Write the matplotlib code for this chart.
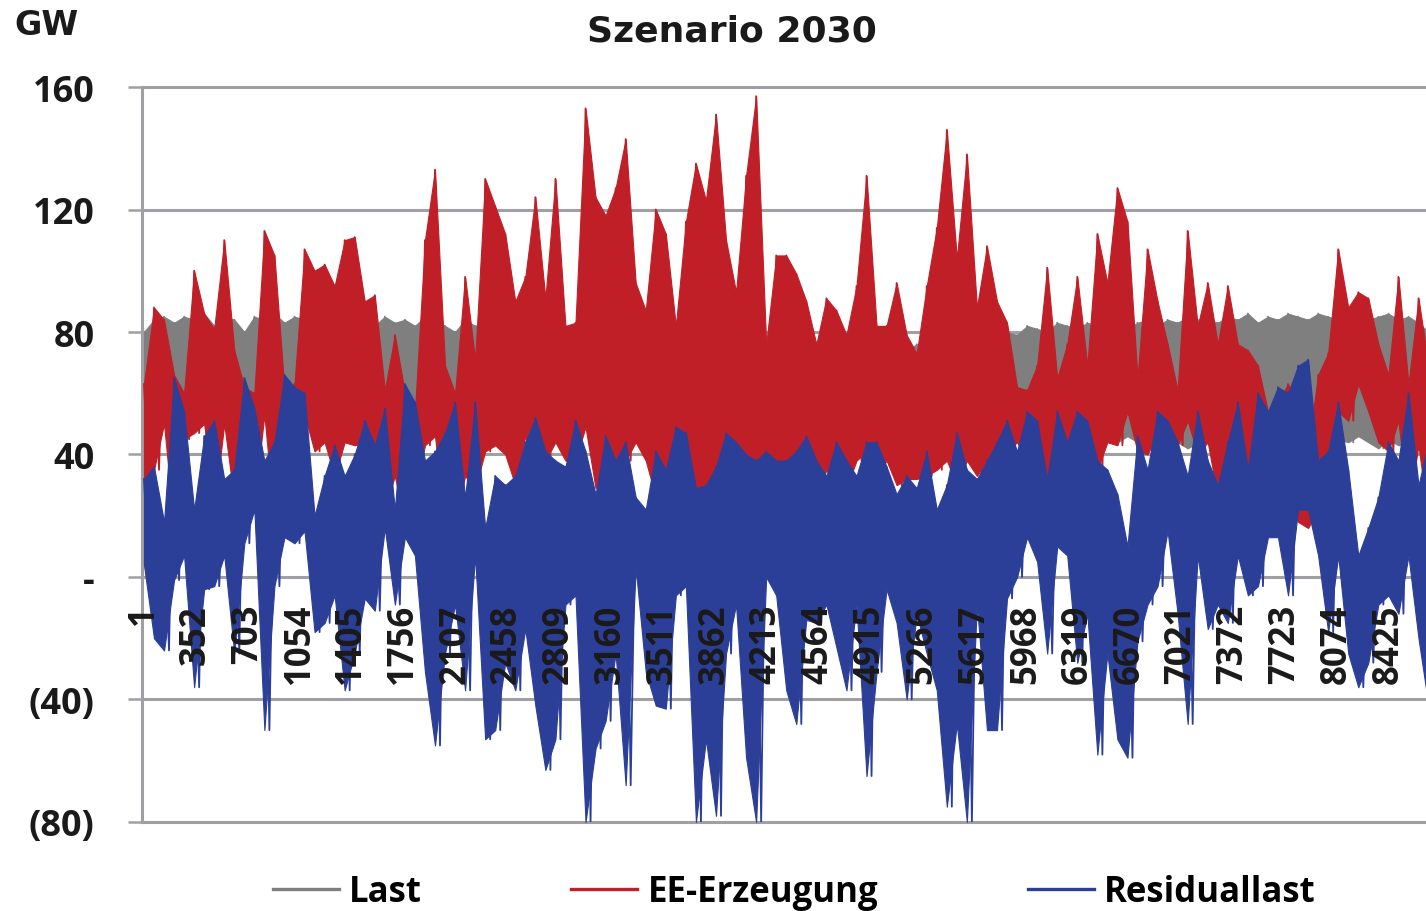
import numpy as np
import matplotlib.pyplot as plt
from matplotlib.lines import Line2D

# envelope values (GW), 130 samples across the 8760 hours
last_hi = [80, 84, 85, 83, 85, 84, 86, 82, 85, 84, 80, 85, 84, 86, 83, 85, 84, 81, 85, 84, 86, 83,
           84, 82, 85, 83, 84, 82, 85, 84, 82, 80, 84, 82, 83, 81, 82, 80, 83, 84, 82, 80, 81,
           80, 78, 79, 77, 78, 76, 78, 77, 76, 75, 77, 76, 75, 76, 74, 75, 76, 74, 75, 74, 76,
           75, 74, 76, 75, 77, 75, 74, 76, 75, 74, 73, 75, 74, 76, 75, 74, 73, 75, 74, 76, 77,
           78, 80, 79, 82, 81, 80, 83, 82, 81, 83, 82, 80, 82, 81, 83, 84, 82, 84, 83, 85, 84,
           84, 83, 85, 84, 86, 83, 85, 84, 86, 85, 84, 86, 85, 84, 86, 85, 84, 85, 86, 84, 85, 83, 80, 74]
last_lo = [45, 58, 56, 60, 55, 58, 54, 60, 56, 55, 60, 57, 55, 58, 56, 60, 55, 58, 56, 54, 57, 58,
           56, 55, 58, 54, 57, 55, 53, 55, 56, 54, 53, 55, 52, 54, 53, 52, 54, 53, 52, 50, 52,
           52, 50, 51, 49, 50, 48, 49, 50, 48, 47, 49, 48, 47, 48, 46, 47, 48, 46, 47, 46, 48,
           47, 46, 48, 47, 48, 46, 47, 48, 46, 47, 45, 47, 46, 48, 47, 46, 45, 47, 46, 47, 48,
           48, 47, 49, 46, 48, 47, 45, 47, 46, 44, 46, 45, 44, 46, 44, 45, 43, 45, 44, 42, 44,
           44, 43, 45, 42, 44, 43, 42, 44, 43, 45, 42, 44, 43, 45, 44, 46, 44, 42, 45, 43, 44, 42, 44, 48]

ee_hi = [63, 88, 84, 66, 60, 100, 86, 81, 110, 74, 62, 60, 113, 105, 61, 63, 107, 100, 102, 95, 110, 111,
         90, 92, 61, 79, 60, 54, 110, 133, 69, 60, 98, 71, 130, 121, 112, 90, 98, 124, 91, 130, 82,
         83, 153, 124, 118, 127, 143, 96, 87, 120, 112, 82, 116, 135, 123, 151, 110, 93, 131, 157, 76, 105,
         105, 99, 90, 76, 91, 87, 79, 95, 131, 82, 82, 96, 79, 73, 95, 114, 146, 104, 138, 88, 108,
         90, 83, 62, 61, 69, 101, 65, 76, 98, 69, 112, 96, 127, 116, 65, 107, 90, 76, 61, 113, 82,
         96, 76, 95, 76, 74, 69, 54, 57, 63, 57, 42, 66, 73, 107, 88, 93, 91, 76, 66, 98, 63, 91, 69, 60]
ee_lo = [32, 35, 50, 16, 45, 47, 50, 22, 50, 25, 22, 24, 53, 18, 16, 18, 53, 41, 44, 33, 44, 43,
         44, 41, 22, 33, 17, 27, 43, 46, 18, 18, 33, 29, 41, 43, 40, 30, 46, 35, 38, 44, 38,
         38, 49, 29, 35, 33, 38, 44, 38, 26, 32, 30, 33, 27, 30, 35, 40, 41, 38, 35, 30, 38,
         33, 35, 41, 26, 35, 29, 29, 38, 41, 33, 38, 30, 32, 32, 33, 35, 38, 30, 38, 33, 38,
         38, 41, 44, 38, 35, 32, 44, 41, 51, 41, 35, 44, 43, 54, 41, 40, 47, 43, 43, 51, 40,
         44, 26, 44, 27, 22, 18, 18, 18, 26, 18, 16, 22, 38, 54, 51, 63, 54, 44, 41, 51, 22, 43, 18, 20]

res_hi = [32, 36, 18, 65, 54, 22, 46, 51, 32, 35, 65, 55, 38, 44, 66, 62, 60, 20, 33, 43, 33, 40,
          51, 43, 55, 22, 63, 57, 38, 41, 47, 57, 26, 57, 16, 33, 30, 33, 44, 52, 41, 38, 36,
          51, 41, 27, 46, 38, 44, 26, 22, 41, 35, 49, 47, 29, 30, 36, 47, 44, 40, 38, 41, 38,
          38, 41, 46, 38, 33, 44, 38, 33, 44, 44, 36, 27, 33, 29, 41, 22, 30, 47, 35, 32, 38,
          44, 51, 41, 54, 51, 32, 54, 44, 54, 51, 38, 35, 27, 10, 46, 35, 54, 51, 44, 33, 54,
          38, 30, 44, 57, 35, 60, 54, 62, 60, 69, 71, 38, 41, 57, 35, 7, 16, 26, 44, 38, 60, 30, 44, 51]
res_lo = [4, -20, -24, -1, 7, -36, -4, -3, 7, -25, 11, 22, -50, -3, 13, 11, 15, -18, -15, -6, -37, -25,
          -7, -11, 16, -9, 13, 7, -31, -55, -25, -9, -37, 7, -53, -50, -28, -37, -17, -42, -63, -53, -9,
          -6, -80, -56, -47, -25, -68, 3, -31, -42, -43, -6, -3, -80, -53, -78, -25, -9, -59, -80, 0, -6,
          -37, -48, -14, -15, -9, -23, -37, -9, -65, -31, -4, -15, -40, -12, -25, -37, -75, -48, -80, -9, -50,
          -50, -7, 0, 13, 5, -25, 10, 7, -28, -12, -58, -25, -53, -59, -21, -9, -3, 15, -12, -48, 7,
          -17, -9, -15, 7, -6, -3, 13, 13, -6, 22, 22, 7, -18, 7, -25, -36, -28, -9, -6, -12, 7, -20, -42, 7]

tick_hours = [1, 352, 703, 1054, 1405, 1756, 2107, 2458, 2809, 3160, 3511, 3862, 4213,
              4564, 4915, 5266, 5617, 5968, 6319, 6670, 7021, 7372, 7723, 8074, 8425]
y_ticks = [-80, -40, 0, 40, 80, 120, 160]
y_labels = ['(80)', '(40)', '-', '40', '80', '120', '160']

c_last, c_ee, c_res = '#7f7f7f', '#c01f28', '#2c3f98'
grid_c = '#a0a0a4'
font = 'Open Sans'

hours = np.linspace(1, 8760, len(ee_hi))
step = hours[1] - hours[0]
# zigzag path: each high followed by the low half a step later
zz_x = np.column_stack([hours, hours + step / 2]).ravel()

fig = plt.figure(figsize=(14.26, 9.12), dpi=100)
ax = fig.add_axes([0.0996, 0.0976, 0.9004, 0.8059])

for lo, hi, c, z in [(last_lo, last_hi, c_last, 2), (ee_lo, ee_hi, c_ee, 3), (res_lo, res_hi, c_res, 4)]:
    ax.fill_between(hours, lo, hi, color=c, lw=0.8, zorder=z)
    ax.plot(zz_x, np.column_stack([hi, lo]).ravel(), color=c, lw=1.3, zorder=z)

ax.set_xlim(-12, 8675)
ax.set_ylim(-80, 160)
ax.set_xticks([])
ax.set_yticks(y_ticks)
ax.set_yticklabels(y_labels, fontname=font, fontweight='bold', fontsize=26, color='#1a1a1a')
ax.tick_params(axis='y', length=10, width=1.8, color=grid_c, pad=24)
ax.yaxis.grid(True, color=grid_c, lw=2.2)
for gl in ax.get_ygridlines():
    gl.set_clip_on(False)
ax.set_axisbelow(True)
for s in ['top', 'right', 'bottom']:
    ax.spines[s].set_visible(False)
ax.spines['left'].set_color(grid_c)
ax.spines['left'].set_linewidth(2.2)

for h in tick_hours:
    ax.text(h, -8.8, str(h), rotation=90, ha='center', va='top', fontname=font,
            fontweight='bold', fontsize=25, color='#1a1a1a', zorder=5)

fig.text(0.513, 0.965, 'Szenario 2030', ha='center', va='center', fontname='DejaVu Sans',
         fontweight='bold', fontsize=26, color='#1a1a1a')
fig.text(0.010, 0.962, 'GW', ha='left', va='baseline', fontname='DejaVu Sans',
         fontweight='bold', fontsize=24, color='#1a1a1a')

handles = [Line2D([], [], color=c, lw=2.4) for c in (c_last, c_ee, c_res)]
fig.legend(handles, ['Last', 'EE-Erzeugung', 'Residuallast'], loc='center',
           bbox_to_anchor=(0.557, 0.021), ncol=3, frameon=False, handlelength=1.9,
           handletextpad=0.3, columnspacing=4.3,
           prop={'family': font, 'weight': 'bold', 'size': 25})

fig.savefig('out.png', dpi=100)
